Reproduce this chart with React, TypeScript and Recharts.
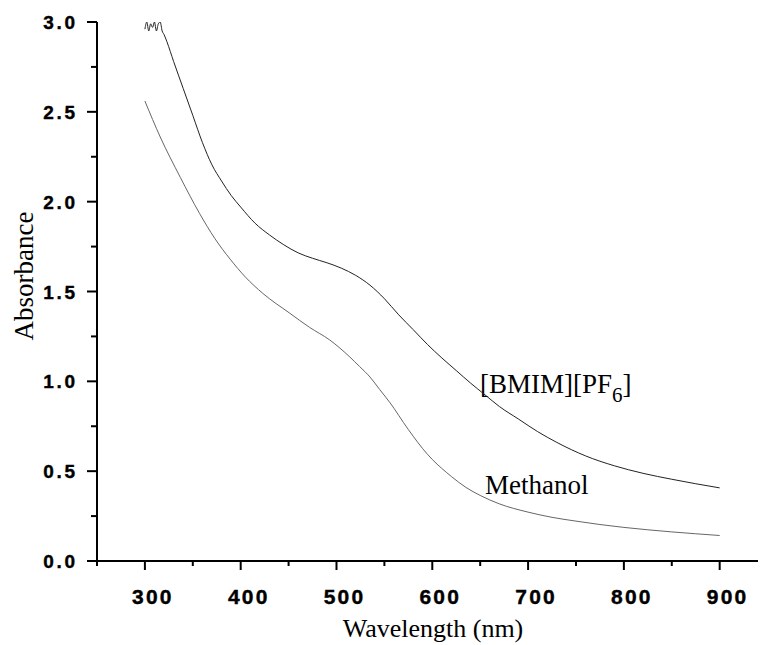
import React from "react";
import { LineChart, Line, XAxis, YAxis } from "recharts";

const methanolWavelength = [300, 316, 337, 357, 373, 389, 405, 423, 451, 472, 493, 514, 524, 535, 545, 556, 560, 570, 580, 590, 600, 610, 620, 635, 650, 670, 700, 725, 750, 775, 800, 850, 900];
const methanolAbs = [2.56, 2.36, 2.135, 1.935, 1.795, 1.68, 1.58, 1.49, 1.38, 1.3, 1.23, 1.135, 1.083, 1.024, 0.955, 0.88, 0.85, 0.77, 0.695, 0.625, 0.565, 0.515, 0.47, 0.41, 0.365, 0.318, 0.272, 0.243, 0.222, 0.203, 0.187, 0.162, 0.142];

const bmimWavelength = [300, 302, 304, 306, 308, 310, 312, 314, 316, 318, 320, 323, 330, 340, 350, 360, 370, 380, 390, 400, 415, 430, 445, 460, 475, 490, 505, 520, 535, 550, 565, 580, 595, 610, 625, 640, 655, 670, 690, 710, 730, 760, 790, 820, 850, 875, 900];
const bmimAbs = [2.96, 3.0, 2.95, 2.99, 2.97, 3.0, 2.95, 2.99, 3.0, 2.95, 2.93, 2.89, 2.78, 2.63, 2.48, 2.33, 2.205, 2.115, 2.035, 1.97, 1.88, 1.815, 1.76, 1.715, 1.685, 1.66, 1.63, 1.59, 1.535, 1.46, 1.37, 1.288, 1.205, 1.13, 1.06, 0.99, 0.925, 0.86, 0.79, 0.72, 0.66, 0.585, 0.53, 0.488, 0.455, 0.43, 0.407];

const xTicks = [250, 300, 350, 400, 450, 500, 550, 600, 650, 700, 750, 800, 850, 900];
const xMajor = [300, 400, 500, 600, 700, 800, 900];
const yTicks = [0, 0.25, 0.5, 0.75, 1, 1.25, 1.5, 1.75, 2, 2.25, 2.5, 2.75, 3];
const yMajor = [0, 0.5, 1, 1.5, 2, 2.5, 3];

const methanolData = methanolWavelength.map((x, i) => ({ x, y: methanolAbs[i] }));
const bmimData = bmimWavelength.map((x, i) => ({ x, y: bmimAbs[i] }));

const tickFont = { fontFamily: "'Liberation Sans', Arial, sans-serif", fontWeight: 700 as const, stroke: "#000", strokeWidth: 0.4 };
const serif = "'Liberation Serif', 'Times New Roman', serif";

const XTick = (props: any) => {
  const { x, y, payload } = props;
  const v = payload.value;
  const major = xMajor.includes(v);
  return (
    <g>
      <line x1={x} y1={y} x2={x} y2={y + (major ? 9 : 5)} stroke="#000" strokeWidth={2} />
      {major && (
        <text x={x + 8} y={y + 43} textAnchor="middle" fontSize={21} letterSpacing={2.2} fill="#000" {...tickFont}>
          {v}
        </text>
      )}
    </g>
  );
};

const YTick = (props: any) => {
  const { x, y, payload } = props;
  const v = payload.value;
  const major = yMajor.some((m) => Math.abs(m - v) < 1e-6);
  return (
    <g>
      <line x1={x} y1={y} x2={x - (major ? 10 : 6)} y2={y} stroke="#000" strokeWidth={2} />
      {major && (
        <text x={x - 19} y={y + 7} textAnchor="end" fontSize={19} letterSpacing={2.8} fill="#000" {...tickFont}>
          {v.toFixed(1)}
        </text>
      )}
    </g>
  );
};

export default function App() {
  return (
    <div style={{ position: "absolute", left: 0, top: 0, width: 761, height: 645, background: "#fff" }}>
      <LineChart width={761} height={645} margin={{ top: 22, right: 3, bottom: 83, left: 0 }}>
        <XAxis
          type="number"
          dataKey="x"
          domain={[250, 940]}
          ticks={xTicks}
          allowDataOverflow
          height={1}
          tickSize={0}
          tickMargin={0}
          tickLine={false}
          axisLine={{ stroke: "#000", strokeWidth: 2 }}
          tick={<XTick />}
          interval={0}
        />
        <YAxis
          type="number"
          dataKey="y"
          domain={[0, 3]}
          ticks={yTicks}
          allowDataOverflow
          width={97}
          tickSize={0}
          tickMargin={0}
          tickLine={false}
          axisLine={{ stroke: "#000", strokeWidth: 2 }}
          tick={<YTick />}
          interval={0}
        />
        <Line data={methanolData} dataKey="y" type="monotone" stroke="#666" strokeWidth={1} dot={false} isAnimationActive={false} />
        <Line data={bmimData} dataKey="y" type="monotone" stroke="#222" strokeWidth={1} dot={false} isAnimationActive={false} />
        <text x={433} y={637} textAnchor="middle" fontSize={26} fontFamily={serif} fill="#000">
          Wavelength (nm)
        </text>
        <text x={33} y={276} textAnchor="middle" fontSize={27} fontFamily={serif} fill="#000" transform="rotate(-90 33 276)">
          Absorbance
        </text>
        <text x={480} y={393} fontSize={27} fontFamily={serif} fill="#000">
          [BMIM][PF
          <tspan fontSize={21} dy={9}>6</tspan>
          <tspan dy={-9}>]</tspan>
        </text>
        <text x={485} y={494} fontSize={27} fontFamily={serif} fill="#000">
          Methanol
        </text>
      </LineChart>
    </div>
  );
}
